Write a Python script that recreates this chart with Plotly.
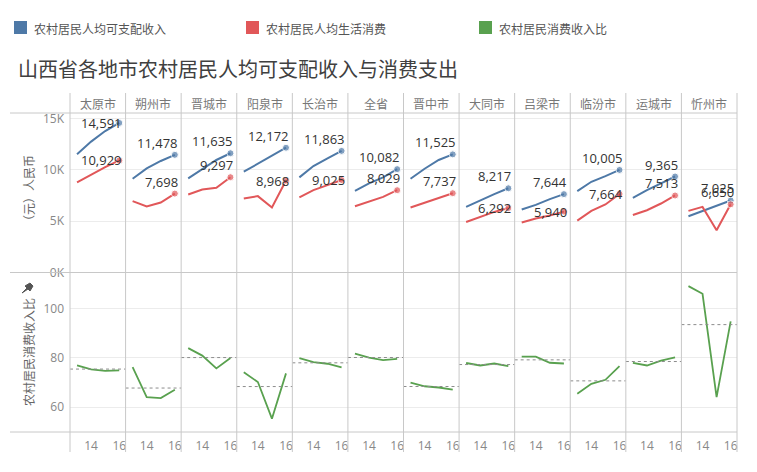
import numpy as np
import pandas as pd
import plotly.graph_objects as go
from plotly.subplots import make_subplots

# data
cities = ['太原市', '朔州市', '晋城市', '阳泉市', '长治市', '全省',
          '晋中市', '大同市', '吕梁市', '临汾市', '运城市', '忻州市']
years = [2013, 2014, 2015, 2016]

# 农村居民人均可支配收入 (元)
income_13 = [11540, 9143, 9180, 9830, 9280, 7967, 9143, 6400, 6145, 7938, 7281, 5488]
income_14 = [12770, 10160, 10060, 10600, 10388, 8690, 10123, 7056, 6600, 8850, 8036, 6010]
income_15 = [13800, 10880, 10976, 11400, 11143, 9280, 10976, 7644, 7154, 9408, 8690, 6566]
income_16 = [14591, 11478, 11635, 12172, 11863, 10082, 11525, 8217, 7644, 10005, 9365, 7025]

# 农村居民人均生活消费 (元)
spend_13 = [8800, 6958, 7610, 7220, 7320, 6468, 6340, 4930, 4870, 5067, 5615, 6010]
spend_14 = [9580, 6440, 8100, 7450, 8036, 6890, 6790, 5420, 5263, 6008, 6076, 6400]
spend_15 = [10280, 6830, 8260, 6340, 8526, 7380, 7280, 5910, 5557, 6635, 6730, 4116]
spend_16 = [10929, 7698, 9297, 8968, 9025, 8029, 7737, 6292, 5940, 7664, 7513, 6650]

# 农村居民消费收入比 (%)
ratio_13 = [76.9, 76.2, 83.9, 74.2, 79.9, 81.7, 70.0, 77.9, 80.5, 65.5, 78.0, 109.0]
ratio_14 = [75.3, 64.1, 80.9, 70.2, 78.3, 80.1, 68.5, 76.9, 80.5, 69.5, 76.9, 105.9]
ratio_15 = [74.7, 63.7, 75.7, 55.4, 77.6, 79.1, 68.0, 77.7, 78.0, 71.1, 78.9, 64.1]
ratio_16 = [74.9, 67.1, 79.9, 73.7, 76.1, 79.6, 67.1, 76.6, 77.7, 76.6, 80.2, 94.7]

df = pd.DataFrame({
    'city': np.repeat(cities, 4),
    'year': years * len(cities),
    'income': np.column_stack([income_13, income_14, income_15, income_16]).ravel(),
    'spend': np.column_stack([spend_13, spend_14, spend_15, spend_16]).ravel(),
    'ratio': np.column_stack([ratio_13, ratio_14, ratio_15, ratio_16]).ravel(),
})

BLUE, RED, GREEN = '#4e79a7', '#e15759', '#59a14f'
GRID, BORDER = '#ececec', '#c8c8c8'
CJK = 'Noto Sans CJK SC'
NUM = 'Open Sans'

# which end labels sit level with their dot instead of above it
level_income = {'太原市'}
level_spend = {'太原市', '阳泉市', '长治市', '大同市', '吕梁市', '临汾市'}

W, H = 757, 472
L, R, T, B = 70, 20, 113, 40


def px(x):
    return (x - L) / (W - L - R)


def py(y):
    return (H - B - y) / (H - T - B)


def note(x, y, text, size=12, color='#666666', family=CJK, xanchor='center', **kw):
    fig.add_annotation(x=x, y=y, xref='paper', yref='paper', text=text, showarrow=False,
                       xanchor=xanchor, yanchor='middle',
                       font=dict(family=family, size=size, color=color), **kw)


fig = make_subplots(rows=2, cols=12, horizontal_spacing=0, vertical_spacing=0)

n = len(cities)
for c, city in enumerate(cities):
    d = df[df['city'] == city]
    col = c + 1
    fig.add_trace(go.Scatter(x=d['year'], y=d['income'], mode='lines+markers',
                             line=dict(color=BLUE, width=2),
                             marker=dict(size=[0, 0, 0, 7], color=BLUE),
                             showlegend=False, hoverinfo='skip'), row=1, col=col)
    fig.add_trace(go.Scatter(x=d['year'], y=d['spend'], mode='lines+markers',
                             line=dict(color=RED, width=2),
                             marker=dict(size=[0, 0, 0, 7], color=RED),
                             showlegend=False, hoverinfo='skip'), row=1, col=col)
    fig.add_trace(go.Scatter(x=d['year'], y=d['ratio'], mode='lines',
                             line=dict(color=GREEN, width=1.8),
                             showlegend=False, hoverinfo='skip'), row=2, col=col)

    # average reference line
    fig.add_shape(type='line', xref=f'x{n + col} domain', x0=0, x1=1,
                  yref=f'y{n + col}', y0=d['ratio'].mean(), y1=d['ratio'].mean(),
                  line=dict(color='#8c8c8c', width=1, dash='dot'))

    # end labels
    last = d[d['year'] == 2016].iloc[0]
    for val, level in [(last['income'], city in level_income),
                       (last['spend'], city in level_spend)]:
        fig.add_annotation(x=2016, y=val, xref=f'x{col}', yref=f'y{col}',
                           text=f'{int(val):,}', showarrow=False,
                           xanchor='right', yanchor='middle', xshift=5,
                           yshift=0 if level else 12,
                           font=dict(family=NUM, size=13, color='#333333'))

    # column header
    note((c + 0.5) / 12, py(103), city, color='#777777')

fig.update_xaxes(range=[2012.5, 2016.45], tickvals=[2014, 2016], ticktext=['14', '16'],
                 showgrid=False, zeroline=False, showline=False, ticks='',
                 tickfont=dict(family=NUM, size=12, color='#888888'),
                 ticklabelstandoff=5)
fig.update_xaxes(showticklabels=False, row=1)

fig.update_yaxes(showgrid=True, gridcolor=GRID, gridwidth=1, zeroline=False,
                 showline=False, ticks='', showticklabels=False,
                 tickfont=dict(family=NUM, size=12, color='#888888'),
                 ticklabelstandoff=5)
fig.update_yaxes(range=[0, 15560], tickvals=[0, 5000, 10000, 15000],
                 ticktext=['0K', '5K', '10K', '15K'], row=1)
fig.update_yaxes(range=[50, 114.5], tickvals=[60, 80, 100], row=2)
fig.update_yaxes(showticklabels=True, col=1)

# panel borders
for k in range(13):
    fig.add_shape(type='line', xref='paper', yref='paper', x0=k / 12, x1=k / 12,
                  y0=py(93), y1=py(452), line=dict(color=BORDER, width=1))
for yy in [113, 272.5, 432]:
    fig.add_shape(type='line', xref='paper', yref='paper', x0=px(10), x1=1,
                  y0=py(yy), y1=py(yy), line=dict(color=BORDER, width=1))

# axis titles
note(px(28), py(191), '（元）人民币', textangle=-90)
note(px(28), py(352), '农村居民消费收入比', textangle=-90)
# pin icon above the ratio axis title
fig.add_shape(type='path', xref='paper', yref='paper',
              path=(f'M {px(22)},{py(293)} L {px(27)},{py(288)} L {px(25)},{py(286)} '
                    f'L {px(30)},{py(283)} L {px(33)},{py(286)} L {px(30)},{py(291)} '
                    f'L {px(28)},{py(289)} Z'),
              fillcolor='#555555', line=dict(color='#555555', width=1))

# legend
legend_items = [('农村居民人均可支配收入', BLUE, 14), ('农村居民人均生活消费', RED, 246),
                ('农村居民消费收入比', GREEN, 479)]
for label, color, x0 in legend_items:
    fig.add_shape(type='rect', xref='paper', yref='paper', x0=px(x0), x1=px(x0 + 13),
                  y0=py(21), y1=py(34), fillcolor=color, line=dict(width=0))
    note(px(x0 + 18), py(28), label, color='#555555', xanchor='left')

note(px(16), py(69), '山西省各地市农村居民人均可支配收入与消费支出',
     size=20, color='#404040', xanchor='left')

fig.update_layout(width=W, height=H, margin=dict(l=L, r=R, t=T, b=B),
                  paper_bgcolor='white', plot_bgcolor='white')

fig.write_html('out.html', config={'displayModeBar': False},
               post_script="document.body.style.margin='0';")
